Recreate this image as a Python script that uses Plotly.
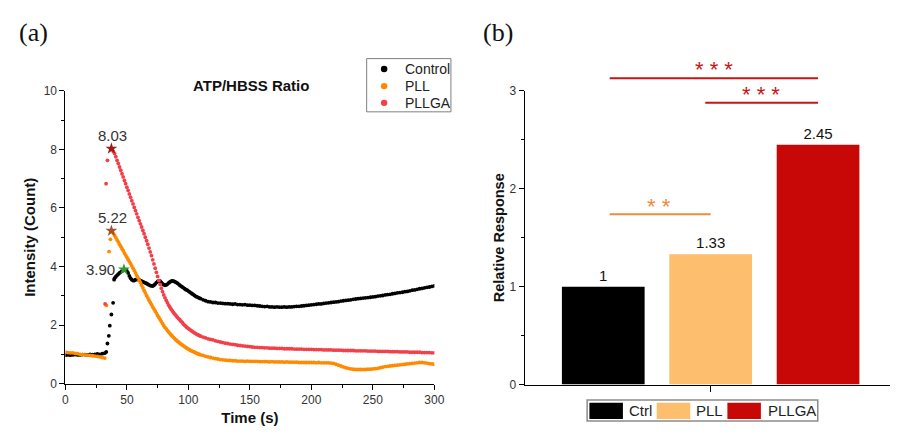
import plotly.graph_objects as go

# ---------------- data: panel (a) ATP/HBSS ratio time series ----------------
T_BASE = list(range(0, 33, 2))          # 0..32 s, 2 s sampling
T_FINE_CTRL = list(range(40, 111))      # 40..110 s, 1 s sampling
T_FINE = list(range(38, 111))           # 38..110 s, 1 s sampling
T_TAIL = list(range(112, 301, 2))       # 112..300 s, 2 s sampling

CTRL_V_BASE = [0.97, 0.98, 0.97, 0.98, 0.99, 0.98, 0.98, 0.99, 0.99, 0.98,
               1.00, 0.99, 1.00, 1.01, 1.00, 1.02, 1.04]
CTRL_T_JUMP = [33.2, 34.2, 35.3, 36.1, 37.4, 38.8, 39.6]
CTRL_V_JUMP = [1.08, 1.37, 1.63, 1.98, 2.36, 2.76, 3.55]
CTRL_V_FINE = [3.60, 3.65, 3.70, 3.74, 3.78, 3.81, 3.84, 3.88, 3.90, 3.88,
               3.85, 3.78, 3.68, 3.60, 3.55, 3.52, 3.52, 3.55, 3.56, 3.56,
               3.54, 3.52, 3.50, 3.48, 3.46, 3.44, 3.42, 3.40, 3.37, 3.35,
               3.34, 3.33, 3.36, 3.40, 3.45, 3.49, 3.51, 3.50, 3.46, 3.41,
               3.38, 3.36, 3.37, 3.40, 3.44, 3.47, 3.50, 3.51, 3.50, 3.48,
               3.46, 3.43, 3.40, 3.36, 3.33, 3.30, 3.27, 3.24, 3.21, 3.19,
               3.16, 3.13, 3.10, 3.07, 3.04, 3.01, 2.98, 2.96, 2.94, 2.92,
               2.90]
CTRL_V_TAIL = [2.86, 2.83, 2.80, 2.79, 2.77, 2.77, 2.75, 2.75, 2.74, 2.73,
               2.73, 2.72, 2.71, 2.72, 2.70, 2.70, 2.69, 2.70, 2.68, 2.68,
               2.67, 2.67, 2.66, 2.65, 2.64, 2.63, 2.64, 2.62, 2.62, 2.61,
               2.62, 2.61, 2.61, 2.62, 2.61, 2.62, 2.62, 2.63, 2.64, 2.64,
               2.65, 2.66, 2.67, 2.68, 2.69, 2.70, 2.71, 2.72, 2.72, 2.74,
               2.75, 2.76, 2.77, 2.78, 2.79, 2.80, 2.82, 2.83, 2.84, 2.85,
               2.86, 2.88, 2.89, 2.90, 2.91, 2.92, 2.93, 2.94, 2.95, 2.96,
               2.97, 2.99, 3.00, 3.01, 3.03, 3.04, 3.05, 3.07, 3.08, 3.10,
               3.11, 3.12, 3.14, 3.15, 3.17, 3.19, 3.20, 3.22, 3.24, 3.25,
               3.27, 3.29, 3.30, 3.32, 3.34]

PLL_V_BASE = [1.07, 1.06, 1.05, 1.05, 1.03, 1.02, 1.00, 0.99, 0.98, 0.97,
              0.96, 0.95, 0.94, 0.93, 0.91, 0.89, 0.87]
PLL_T_JUMP = [33.4, 35.5, 36.6, 37.4]
PLL_V_JUMP = [2.67, 4.51, 4.93, 5.22]
PLL_V_FINE = [5.20, 5.13, 5.06, 4.99, 4.91, 4.84, 4.76, 4.69, 4.61, 4.54,
              4.46, 4.39, 4.32, 4.24, 4.17, 4.10, 4.02, 3.94, 3.86, 3.78,
              3.70, 3.62, 3.53, 3.45, 3.36, 3.27, 3.18, 3.10, 3.01, 2.93,
              2.85, 2.77, 2.70, 2.62, 2.55, 2.48, 2.41, 2.33, 2.26, 2.19,
              2.12, 2.05, 1.98, 1.92, 1.87, 1.81, 1.76, 1.71, 1.66, 1.62,
              1.57, 1.53, 1.49, 1.45, 1.42, 1.38, 1.35, 1.32, 1.29, 1.26,
              1.23, 1.20, 1.18, 1.15, 1.13, 1.11, 1.09, 1.07, 1.05, 1.03,
              1.01, 1.00, 0.98]
PLL_V_TAIL = [0.96, 0.93, 0.91, 0.89, 0.87, 0.85, 0.84, 0.82, 0.81, 0.80,
              0.79, 0.79, 0.78, 0.78, 0.77, 0.77, 0.77, 0.76, 0.77, 0.76,
              0.76, 0.76, 0.76, 0.75, 0.75, 0.75, 0.75, 0.74, 0.75, 0.74,
              0.74, 0.74, 0.74, 0.73, 0.74, 0.73, 0.73, 0.73, 0.73, 0.72,
              0.72, 0.72, 0.72, 0.72, 0.72, 0.72, 0.71, 0.72, 0.71, 0.71,
              0.71, 0.71, 0.70, 0.69, 0.66, 0.63, 0.60, 0.57, 0.54, 0.52,
              0.50, 0.49, 0.48, 0.48, 0.48, 0.48, 0.48, 0.49, 0.49, 0.50,
              0.51, 0.52, 0.54, 0.56, 0.58, 0.59, 0.60, 0.61, 0.62, 0.63,
              0.64, 0.65, 0.66, 0.67, 0.68, 0.69, 0.70, 0.71, 0.72, 0.72,
              0.71, 0.70, 0.68, 0.67, 0.66]

PLLGA_T_JUMP = [32.3, 33.1, 34.2, 37.4]
PLLGA_V_JUMP = [2.72, 6.83, 7.63, 8.03]
PLLGA_V_FINE = [8.00, 7.93, 7.86, 7.75, 7.63, 7.52, 7.40, 7.29, 7.17, 7.06,
                6.94, 6.83, 6.71, 6.60, 6.48, 6.37, 6.25, 6.14, 6.02, 5.91,
                5.80, 5.68, 5.57, 5.46, 5.35, 5.23, 5.12, 5.00, 4.88, 4.76,
                4.63, 4.50, 4.37, 4.23, 4.09, 3.94, 3.80, 3.66, 3.52, 3.39,
                3.26, 3.14, 3.03, 2.93, 2.84, 2.76, 2.68, 2.61, 2.54, 2.48,
                2.42, 2.37, 2.32, 2.27, 2.22, 2.18, 2.13, 2.09, 2.03, 1.99,
                1.95, 1.91, 1.88, 1.85, 1.82, 1.79, 1.76, 1.73, 1.71, 1.68,
                1.66, 1.64, 1.62]
PLLGA_V_TAIL = [1.59, 1.56, 1.53, 1.51, 1.49, 1.46, 1.44, 1.42, 1.40, 1.38,
                1.37, 1.35, 1.34, 1.33, 1.31, 1.30, 1.29, 1.28, 1.27, 1.26,
                1.25, 1.24, 1.24, 1.23, 1.23, 1.22, 1.22, 1.21, 1.21, 1.21,
                1.20, 1.20, 1.20, 1.19, 1.19, 1.19, 1.19, 1.18, 1.18, 1.18,
                1.18, 1.17, 1.17, 1.17, 1.17, 1.16, 1.16, 1.16, 1.16, 1.15,
                1.15, 1.15, 1.15, 1.14, 1.14, 1.14, 1.14, 1.13, 1.13, 1.13,
                1.13, 1.13, 1.12, 1.12, 1.12, 1.12, 1.12, 1.11, 1.11, 1.11,
                1.11, 1.10, 1.10, 1.10, 1.10, 1.10, 1.09, 1.09, 1.09, 1.09,
                1.08, 1.08, 1.08, 1.08, 1.07, 1.07, 1.07, 1.07, 1.07, 1.06,
                1.06, 1.06, 1.06, 1.05, 1.05]

PEAK_T = [37.4, 37.4, 47.6]
PEAK_V = [8.03, 5.22, 3.90]

# ---------------- data: panel (b) relative response ----------------
GROUPS = ["Ctrl", "PLL", "PLLGA"]
REL_RESPONSE = [1, 1.33, 2.45]
SIG_PAIRS = [("Ctrl", "PLLGA", "***"), ("PLL", "PLLGA", "***"), ("Ctrl", "PLL", "**")]

# ---------------- assemble series ----------------
ctrl_t = T_BASE + CTRL_T_JUMP + T_FINE_CTRL + T_TAIL
ctrl_v = CTRL_V_BASE + CTRL_V_JUMP + CTRL_V_FINE + CTRL_V_TAIL
pll_t = T_BASE + PLL_T_JUMP + T_FINE + T_TAIL
pll_v = PLL_V_BASE + PLL_V_JUMP + PLL_V_FINE + PLL_V_TAIL
pllga_t = PLLGA_T_JUMP + T_FINE + T_TAIL
pllga_v = PLLGA_V_JUMP + PLLGA_V_FINE + PLLGA_V_TAIL
assert len(ctrl_t) == len(ctrl_v), (len(ctrl_t), len(ctrl_v))
assert len(pll_t) == len(pll_v), (len(pll_t), len(pll_v))
assert len(pllga_t) == len(pllga_v), (len(pllga_t), len(pllga_v))

W, H = 900, 438
FONT = "Liberation Sans, Arial, sans-serif"
SERIF = "Liberation Serif, Times New Roman, serif"


def pxx(x):
    return x / W


def pxy(y):
    return 1 - y / H


SER_COLORS = ["#000000", "#FF8A00", "#F2404B"]
PEAK_COLORS = ["#9B1B1B", "#A0522D", "#2E9B2E"]
BAR_COLORS = ["#000000", "#FDBE6E", "#C80707"]
SIG_COLORS = ["#C81414", "#C81414", "#F08A3C"]

fig = go.Figure()

series = [("Control", ctrl_t, ctrl_v), ("PLL", pll_t, pll_v), ("PLLGA", pllga_t, pllga_v)]
for (name, t, v), c in zip(series, SER_COLORS):
    fig.add_trace(go.Scatter(x=t, y=v, mode="markers", name=name, showlegend=False,
                             marker=dict(size=3.8, color=c, line=dict(width=0)),
                             xaxis="x", yaxis="y"))

fig.add_trace(go.Scatter(x=PEAK_T, y=PEAK_V, mode="markers", showlegend=False,
                         marker=dict(symbol="star", size=9, color=PEAK_COLORS, line=dict(width=0)),
                         xaxis="x", yaxis="y"))

fig.add_trace(go.Bar(x=GROUPS, y=REL_RESPONSE, marker=dict(color=BAR_COLORS, line=dict(width=0)),
                     width=0.77, text=[f"{v:g}" for v in REL_RESPONSE], textposition="outside",
                     cliponaxis=False, textfont=dict(size=15, color="#111", family=FONT),
                     showlegend=False, xaxis="x2", yaxis="y2"))

axis_common = dict(showline=True, linecolor="black", linewidth=1, ticks="outside",
                   ticklen=5, tickwidth=1, tickcolor="black", showgrid=False, zeroline=False,
                   tickfont=dict(size=12, color="#333", family=FONT))

Y2_MAX = 3

annotations = []
shapes = []

# peak labels
for t, v, pos in zip(PEAK_T, PEAK_V, ["top", "top", "left"]):
    if pos == "top":
        annotations.append(dict(x=t, y=v, xref="x", yref="y", text=f"{v:.2f}", showarrow=False,
                                xanchor="center", yanchor="bottom", yshift=3, xshift=1,
                                font=dict(size=15, color="#333", family=FONT)))
    else:
        annotations.append(dict(x=t, y=v, xref="x", yref="y", text=f"{v:.2f}", showarrow=False,
                                xanchor="right", yanchor="middle", xshift=-7,
                                font=dict(size=15, color="#333", family=FONT)))

annotations += [
    dict(x=pxx(251.7), y=pxy(80.7), xref="paper", yref="paper", text="<b>ATP/HBSS Ratio</b>",
         showarrow=False, xanchor="center", yanchor="middle",
         font=dict(size=15, color="#111", family=FONT)),
    dict(x=pxx(30.5), y=pxy(26.5), xref="paper", yref="paper", text="(a)", showarrow=False,
         xanchor="center", yanchor="middle", font=dict(size=26, color="#111", family=SERIF)),
    dict(x=pxx(502), y=pxy(26.5), xref="paper", yref="paper", text="(b)", showarrow=False,
         xanchor="center", yanchor="middle", font=dict(size=26, color="#111", family=SERIF)),
]

# manual legend for panel (a)
shapes.append(dict(type="rect", xref="paper", yref="paper", x0=pxx(369), x1=pxx(454.5),
                   y0=pxy(108.3), y1=pxy(53.3), line=dict(color="#7f7f7f", width=1),
                   fillcolor="white", layer="above"))
leg_y = [64, 81.7, 99]
for (name, _, _), c, ly in zip(series, SER_COLORS, leg_y):
    shapes.append(dict(type="circle", xref="paper", yref="paper",
                       x0=pxx(386.7 - 3.3), x1=pxx(386.7 + 3.3),
                       y0=pxy(ly + 3.3), y1=pxy(ly - 3.3),
                       line=dict(width=0), fillcolor=c, layer="above"))
    annotations.append(dict(x=pxx(405.5), y=pxy(ly), xref="paper", yref="paper", text=name,
                            showarrow=False, xanchor="left", yanchor="middle",
                            font=dict(size=14, color="#222", family=FONT)))

# significance brackets (panel b)
sig_layout = [(0.06, 2.0, 3.13, 1.03, 3.22), (0.95, 2.0, 2.88, 1.47, 2.96), (0.06, 1.0, 1.74, 0.52, 1.82)]
for (g1, g2, stars), (x0, x1, yl, xt, yt), c in zip(SIG_PAIRS, sig_layout, SIG_COLORS):
    shapes.append(dict(type="line", xref="x2", yref="y2 domain", x0=x0, x1=x1,
                       y0=yl / Y2_MAX, y1=yl / Y2_MAX, line=dict(color=c, width=2)))
    annotations.append(dict(x=xt, y=yt / Y2_MAX, xref="x2", yref="y2 domain", text=" ".join(stars),
                            showarrow=False, xanchor="center", yanchor="middle",
                            font=dict(size=22, color=c, family=FONT)))

# manual legend for panel (b)
shapes.append(dict(type="rect", xref="paper", yref="paper", x0=pxx(592.7), x1=pxx(826.7),
                   y0=pxy(427.7), y1=pxy(406), line=dict(color="#8c8c8c", width=1.5),
                   fillcolor="white", layer="below"))
sw_x = [595, 663.3, 735]
txt_x = [633, 701.5, 774]
for g, c, sx, tx in zip(GROUPS, BAR_COLORS, sw_x, txt_x):
    shapes.append(dict(type="rect", xref="paper", yref="paper", x0=pxx(sx), x1=pxx(sx + 34),
                       y0=pxy(425.7), y1=pxy(408.7), line=dict(width=0), fillcolor=c))
    annotations.append(dict(x=pxx(tx), y=pxy(417), xref="paper", yref="paper", text=g,
                            showarrow=False, xanchor="left", yanchor="middle",
                            font=dict(size=15, color="#222", family=FONT)))

fig.update_layout(
    width=W, height=H, autosize=False,
    margin=dict(l=0, r=0, t=0, b=0),
    paper_bgcolor="white", plot_bgcolor="white",
    font=dict(family=FONT, color="#222"),
    showlegend=False,
    xaxis=dict(domain=[pxx(63.3), pxx(437.7)], range=[0, 300], tick0=0, dtick=50,
               minor=dict(tick0=0, dtick=25, ticks="outside", ticklen=3, tickcolor="black"),
               anchor="y",
               title=dict(text="<b>Time (s)</b>", standoff=6,
                          font=dict(size=15, color="#111", family=FONT)),
               **axis_common),
    yaxis=dict(domain=[pxy(389), pxy(86.7)], range=[0, 10], tick0=0, dtick=2,
               minor=dict(tick0=0, dtick=1, ticks="outside", ticklen=3, tickcolor="black"),
               anchor="x",
               title=dict(text="<b>Intensity (Count)</b>", standoff=4,
                          font=dict(size=15, color="#111", family=FONT)),
               **axis_common),
    xaxis2=dict(domain=[pxx(529.3), 1.0], type="category", categoryorder="array",
                categoryarray=GROUPS, range=[-0.732, 2.67], tickmode="array",
                tickvals=["PLL"], showticklabels=False, anchor="y2",
                **{k: v for k, v in axis_common.items() if k != "ticklen"}, ticklen=6),
    yaxis2=dict(domain=[pxy(390), pxy(86.7)], range=[0, Y2_MAX], tick0=0, dtick=1,
                minor=dict(tick0=0, dtick=0.5, ticks="outside", ticklen=3, tickcolor="black"),
                anchor="x2",
                title=dict(text="<b>Relative Response</b>", standoff=1,
                           font=dict(size=14.5, color="#111", family=FONT)),
                **axis_common),
    bargap=0.23,
    annotations=annotations,
    shapes=shapes,
)

fig.write_html("out.html")
